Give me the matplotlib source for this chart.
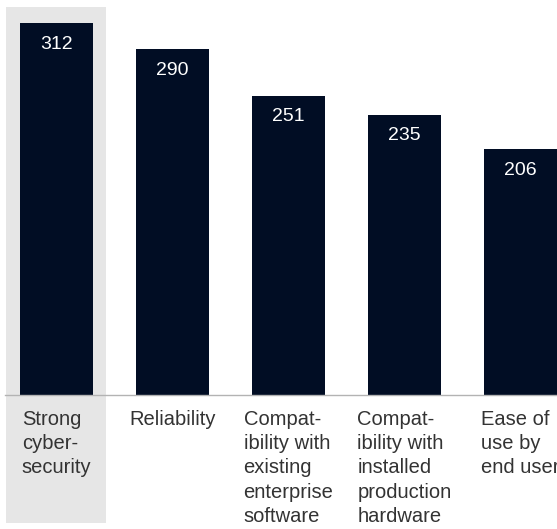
import matplotlib.pyplot as plt

categories = ["Strong\ncyber-\nsecurity", "Reliability",
              "Compat-\nibility with\nexisting\nenterprise\nsoftware",
              "Compat-\nibility with\ninstalled\nproduction\nhardware",
              "Ease of\nuse by\nend user"]
values = [312, 290, 251, 235, 206]

plt.rcParams['font.family'] = ['Liberation Sans', 'DejaVu Sans']

fig = plt.figure(figsize=(5.57, 5.29), dpi=100)
ax = fig.add_axes([0, 0, 1, 1])

x = list(range(len(values)))

# highlight behind first column
ax.bar(0, 325.4 + 107.4, bottom=-107.4, width=0.862, color='#e6e6e6', zorder=0)

ax.bar(x, values, width=0.629, color='#010d24', zorder=2)

for i, v in enumerate(values):
    ax.annotate(str(v), xy=(i, v), xytext=(0, -9), textcoords='offset points',
                ha='center', va='top', color='white', fontsize=14, zorder=3)
    ax.annotate(categories[i], xy=(i, 0), xytext=(0, -10.5), textcoords='offset points',
                ha='center', va='top', multialignment='left', color='#333333',
                fontsize=14.5, linespacing=1.36, zorder=3)

ax.axhline(0, xmin=5 / 557, xmax=1, color='#b3b3b3', linewidth=1, zorder=3)

ax.set_xlim(-0.487, 4.315)
ax.set_ylim(-112.4, 331.4)
ax.axis('off')

fig.savefig('out.png', dpi=100)
